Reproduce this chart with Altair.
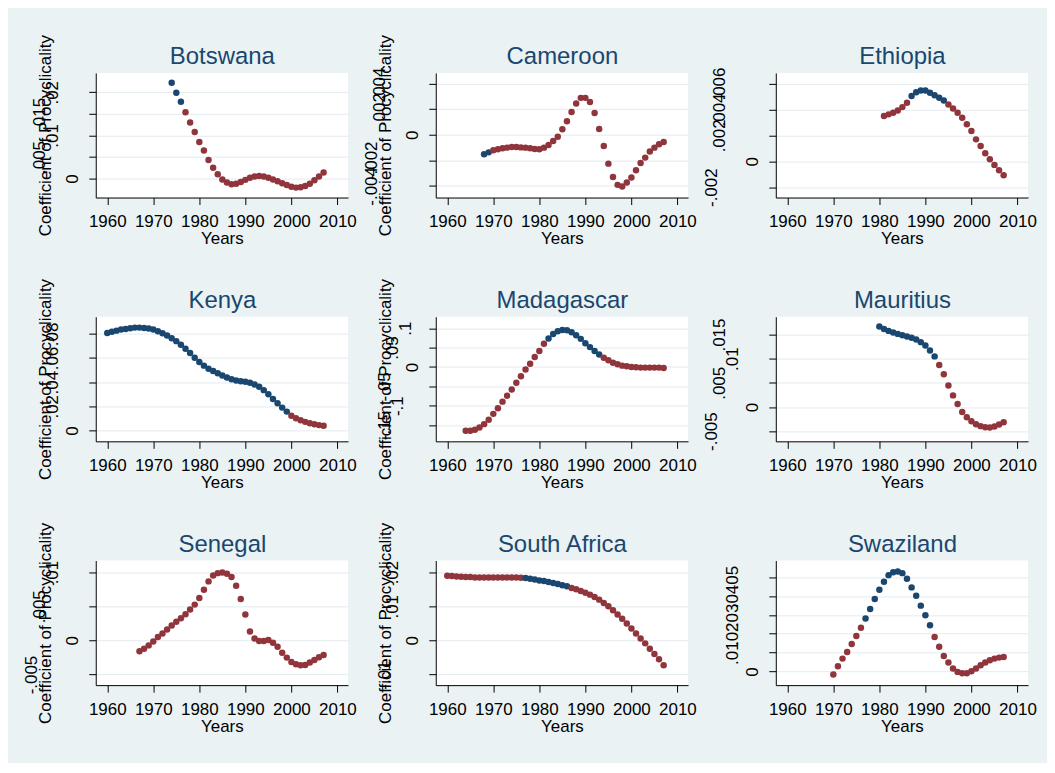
import altair as alt
import pandas as pd

COUNTRIES = ["Botswana", "Cameroon", "Ethiopia", "Kenya", "Madagascar",
             "Mauritius", "Senegal", "South Africa", "Swaziland"]

START_YEAR = {"Botswana": 1974, "Cameroon": 1968, "Ethiopia": 1981, "Kenya": 1960,
              "Madagascar": 1964, "Mauritius": 1980, "Senegal": 1967,
              "South Africa": 1960, "Swaziland": 1970}

# years drawn in navy (first, last); all other years are drawn in maroon
BLUE_SPAN = {"Botswana": (1974, 1976), "Cameroon": (1968, 1969), "Ethiopia": (1987, 1994),
             "Kenya": (1960, 1999), "Madagascar": (1982, 1993), "Mauritius": (1980, 1992),
             "Senegal": None, "South Africa": (1977, 1986), "Swaziland": (1977, 1991)}

botswana = [.0222, .0199, .0178, .0154, .0130, .0108, .0085, .0065, .0043, .0025,
            .0010, -.0002, -.0009, -.0013, -.0012, -.0008, -.0003, .0002, .0005, .0006,
            .0005, .0002, -.0002, -.0006, -.0011, -.0015, -.0019, -.0021, -.0020, -.0017,
            -.0012, -.0004, .0005, .0014]
cameroon = [-.00153, -.00138, -.00122, -.00114, -.00106, -.00101, -.00096, -.00096, -.00099, -.00101,
            -.00106, -.00112, -.00114, -.00101, -.00081, -.00049, -.00016, .00042, .00106, .00177,
            .00244, .00288, .00288, .00255, .00169, .00044, -.00088, -.00226, -.00330, -.00392,
            -.00405, -.00374, -.00335, -.00278, -.00221, -.00179, -.00132, -.00101, -.00075, -.00057]
ethiopia = [.00349, .00362, .00374, .00392, .00418, .00451, .00503, .00533, .00546, .00546,
            .00528, .00510, .00490, .00469, .00438, .00408, .00374, .00336, .00285, .00233,
            .00169, .00118, .00062, .00015, -.00028, -.00069, -.00108]
kenya = [.0808, .0817, .0827, .0836, .0841, .0847, .0852, .0852, .0849, .0844,
         .0836, .0822, .0806, .0786, .0764, .0740, .0710, .0677, .0641, .0603,
         .0567, .0537, .0512, .0493, .0474, .0455, .0438, .0425, .0414, .0408,
         .0403, .0395, .0381, .0362, .0334, .0299, .0260, .0225, .0189, .0156,
         .0121, .0101, .0085, .0071, .0060, .0052, .0044, .0038]
madagascar = [-.1647, -.1647, -.1621, -.1561, -.1476, -.1365, -.1211, -.1066, -.0895, -.0742,
              -.0580, -.0409, -.0239, -.0068, .0085, .0256, .0409, .0597, .0734, .0853,
              .0921, .0955, .0947, .0896, .0819, .0725, .0614, .0512, .0409, .0324,
              .0239, .0171, .0111, .0068, .0034, .0017, .0000, -.0009, -.0017, -.0017,
              -.0017, -.0017, -.0017, -.0026]
mauritius = [.01665, .01617, .01576, .01541, .01514, .01486, .01459, .01432, .01397, .01343,
             .01274, .01171, .01048, .00870, .00678, .00445, .00240, .00062, -.00103, -.00212,
             -.00295, -.00356, -.00397, -.00418, -.00425, -.00404, -.00363, -.00315]
senegal = [-.00160, -.00121, -.00073, -.00015, .00049, .00102, .00160, .00218, .00272, .00325,
           .00383, .00451, .00524, .00621, .00743, .00864, .00951, .00985, .00995, .00976,
           .00927, .00801, .00607, .00379, .00131, .00029, -.00010, -.00010, .00005, -.00034,
           -.00092, -.00180, -.00252, -.00316, -.00350, -.00364, -.00359, -.00325, -.00286, -.00248,
           -.00214]
south_africa = [.01893, .01884, .01874, .01864, .01854, .01854, .01845, .01845, .01845, .01845,
                .01845, .01845, .01845, .01845, .01845, .01845, .01835, .01825, .01806, .01786,
                .01757, .01738, .01709, .01680, .01650, .01612, .01583, .01534, .01495, .01447,
                .01398, .01340, .01272, .01194, .01097, .01000, .00884, .00757, .00631, .00495,
                .00350, .00204, .00058, -.00087, -.00243, -.00398, -.00553, -.00728]
swaziland = [-.00158, .00281, .00684, .01035, .01456, .01877, .02316, .02807, .03316, .03842,
             .04333, .04754, .05105, .05263, .05298, .05211, .04912, .04456, .04018, .03490,
             .02982, .02456, .01825, .01316, .00824, .00474, .00158, -.00018, -.00088, -.00088,
             .00018, .00158, .00333, .00474, .00596, .00684, .00737, .00772]

SERIES = [botswana, cameroon, ethiopia, kenya, madagascar, mauritius, senegal, south_africa, swaziland]

X_TICKS = [1960, 1970, 1980, 1990, 2000, 2010]
Y_TICKS = {"Botswana": [0, .005, .01, .015, .02],
           "Cameroon": [-.004, -.002, 0, .002, .004],
           "Ethiopia": [-.002, 0, .002, .004, .006],
           "Kenya": [0, .02, .04, .06, .08],
           "Madagascar": [-.15, -.1, -.05, 0, .05, .1],
           "Mauritius": [-.005, 0, .005, .01, .015],
           "Senegal": [-.005, 0, .005, .01],
           "South Africa": [-.01, 0, .01, .02],
           "Swaziland": [0, .01, .02, .03, .04, .05]}
Y_DOMAIN = {"Botswana": [-.0044, .0245], "Cameroon": [-.00491, .00483],
            "Ethiopia": [-.0028, .00682], "Kenya": [-.00904, .09425],
            "Madagascar": [-.192, .1297], "Mauritius": [-.00712, .0187],
            "Senegal": [-.00655, .0117], "South Africa": [-.0131, .0234],
            "Swaziland": [-.0072, .0588]}
X_DOMAIN = [1957.5, 2012.3]

rows = []
for country, vals in zip(COUNTRIES, SERIES):
    span = BLUE_SPAN[country]
    for k, v in enumerate(vals):
        yr = START_YEAR[country] + k
        grp = "navy" if (span and span[0] <= yr <= span[1]) else "maroon"
        rows.append({"country": country, "year": yr, "coef": v, "grp": grp})
df = pd.DataFrame(rows)

NAVY = "#1a476f"
MAROON = "#90353b"
FONT = "Liberation Sans"

LBL = "replace(toString(datum.value), '0.', '.')"
WID = ("(8.34*length(" + LBL + ") - (datum.value != 0 ? 4.17 : 0)"
       " - (datum.value < 0 ? 3.34 : 0))")
PAD = "3 + 1.6*" + WID

W, H = 253, 125


def panel(i, country):
    col = i % 3
    xscale = alt.Scale(domain=X_DOMAIN, nice=False, zero=False)
    yscale = alt.Scale(domain=Y_DOMAIN[country], nice=False, zero=False)
    y_axis = alt.Axis(values=Y_TICKS[country], labelExpr=LBL, labelAngle=270,
                      labelAlign="center", labelBaseline="middle",
                      labelPadding=alt.ExprRef(expr=PAD), labelOverlap=False,
                      labelFlush=False, grid=True, gridColor="#e3ebee", gridWidth=1,
                      tickSize=7, titleX=-50, titleY=H / 2, titleAngle=270,
                      titleBaseline="middle", titleAlign="center")
    y_title = "Coefficient of Procyclicality" if col < 2 else None
    x_axis = alt.Axis(values=X_TICKS, format="d", labelFlush=False, labelOverlap=False,
                      grid=False, tickSize=7, labelPadding=9, titleY=33,
                      titleBaseline="top")
    top_axis = alt.Axis(orient="top", labels=False, ticks=False, domain=False, grid=False,
                        titleY=-9, titleBaseline="alphabetic", titleFontSize=24,
                        titleColor=NAVY, titleFont=FONT, titleFontWeight="normal")
    base = alt.Chart(df).transform_filter(alt.datum.country == country)
    points = base.mark_circle(size=42, opacity=1).encode(
        x=alt.X("year:Q", title="Years", axis=x_axis, scale=xscale),
        y=alt.Y("coef:Q", title=y_title, axis=y_axis, scale=yscale),
        color=alt.Color("grp:N", scale=alt.Scale(domain=["navy", "maroon"],
                                                 range=[NAVY, MAROON]), legend=None),
    )
    heading = base.mark_circle(opacity=0).encode(
        x=alt.X("year:Q", title=country, axis=top_axis, scale=xscale),
    )
    return (
        alt.layer(points, heading)
        .resolve_axis(x="independent")
        .properties(width=W, height=H)
    )


chart = (
    alt.concat(*[panel(i, c) for i, c in enumerate(COUNTRIES)], columns=3)
    .properties(spacing=alt.RowColnumber(row=119.5, column=88), bounds="flush",
                background="#eaf2f3",
                padding={"left": 14, "top": 25, "right": 10, "bottom": 28})
    .configure_view(strokeWidth=0, fill="white")
    .configure_axis(domainColor="#000000", domainWidth=1, tickColor="#000000",
                    tickWidth=1, labelFont=FONT, labelFontSize=17, labelColor="#000000",
                    titleFont=FONT, titleFontSize=17, titleFontWeight="normal",
                    titleColor="#000000")
)

chart.save("out.html", embed_options={"renderer": "svg", "actions": False})
